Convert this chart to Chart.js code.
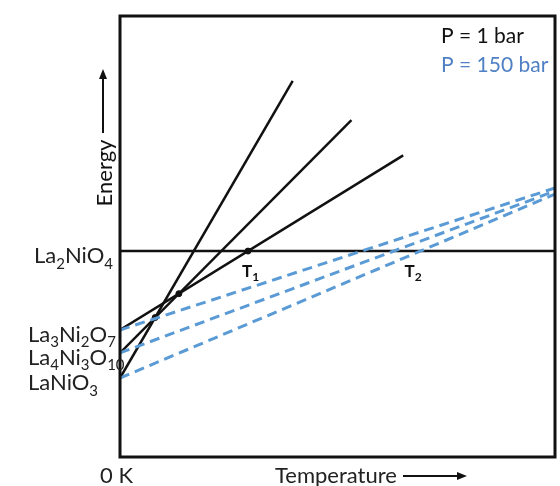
<!DOCTYPE html>
<html>
<head>
<meta charset="utf-8">
<script src="https://cdn.jsdelivr.net/npm/chart.js@4/dist/chart.umd.min.js"></script>
<style>
  html, body { margin: 0; padding: 0; background: #fff; }
  .wrap { width: 560px; height: 486px; position: relative; }
</style>
</head>
<body>
<div class="wrap"><canvas id="myChart"></canvas></div>
<script>
// phases, their energy at 0 K (arbitrary units, 0-100)
const phases = ["La2NiO4", "La3Ni2O7", "La4Ni3O10", "LaNiO3"];
const energy0K = [46.7, 28.8, 23.6, 17.9];
// P = 1 bar lines: end point (temperature, energy)
const bar1EndT = [100, 65.1, 53.2, 39.7];
const bar1EndE = [46.7, 68.4, 76.4, 85.3];
// P = 150 bar lines end at T = 100
const bar150EndE = [46.7, 61.0, 60.3, 59.6];
const legendLabels = ["P = 1 bar", "P = 150 bar"];

const BLACK = "#111111";
const BLUE = "#5b9bd5";
const BLUE_TEXT = "#4f81c4";
const FONT = "Lato";

const lineOf = (i, endT, endE) => [{ x: 0, y: energy0K[i] }, { x: endT, y: endE }];

const cross = (a, b) => {
  const sa = (a[1].y - a[0].y) / (a[1].x - a[0].x);
  const sb = (b[1].y - b[0].y) / (b[1].x - b[0].x);
  const x = (b[0].y - a[0].y) / (sa - sb);
  return { x: x, y: a[0].y + sa * x };
};

const lines1 = phases.map((p, i) => lineOf(i, bar1EndT[i], bar1EndE[i]));
const lines150 = phases.map((p, i) => lineOf(i, 100, bar150EndE[i]));

const dots = [cross(lines1[1], lines1[2]), cross(lines1[2], lines1[3]), cross(lines1[1], lines1[0])];
const t1 = dots[2];
const t2 = cross(lines150[3], lines150[0]);

const datasets = [];
lines150.slice(1).forEach((d) => {
  datasets.push({ data: d, showLine: true, borderColor: BLUE, borderWidth: 3, borderDash: [10, 6], pointRadius: 0 });
});
lines1.forEach((d) => {
  datasets.push({ data: d, showLine: true, borderColor: BLACK, borderWidth: 2.5, pointRadius: 0 });
});
datasets.push({ data: dots, showLine: false, pointRadius: 3, backgroundColor: BLACK, borderColor: BLACK });

// text with digits drawn as subscripts
function drawRich(ctx, text, x, y, size, color, weight, sub) {
  const runs = sub ? text.match(/\d+|\D+/g) : [text];
  const big = `${weight} ${size}px ${FONT}`;
  const small = `${weight} ${Math.round(size * 0.7)}px ${FONT}`;
  let cx = x;
  ctx.fillStyle = color;
  ctx.textBaseline = "alphabetic";
  ctx.textAlign = "left";
  runs.forEach((r) => {
    const isSub = sub && /\d/.test(r);
    ctx.font = isSub ? small : big;
    ctx.fillText(r, cx, isSub ? y + size * 0.25 : y);
    cx += ctx.measureText(r).width;
  });
}

function arrow(ctx, x1, y1, x2, y2) {
  const a = Math.atan2(y2 - y1, x2 - x1);
  ctx.strokeStyle = BLACK;
  ctx.fillStyle = BLACK;
  ctx.lineWidth = 2;
  ctx.beginPath();
  ctx.moveTo(x1, y1);
  ctx.lineTo(x2 - 6 * Math.cos(a), y2 - 6 * Math.sin(a));
  ctx.stroke();
  ctx.beginPath();
  ctx.moveTo(x2, y2);
  ctx.lineTo(x2 - 10 * Math.cos(a) + 4 * Math.sin(a), y2 - 10 * Math.sin(a) - 4 * Math.cos(a));
  ctx.lineTo(x2 - 10 * Math.cos(a) - 4 * Math.sin(a), y2 - 10 * Math.sin(a) + 4 * Math.cos(a));
  ctx.closePath();
  ctx.fill();
}

const decor = {
  id: "decor",
  afterDraw(chart) {
    const ctx = chart.ctx;
    const area = chart.chartArea;
    const xs = chart.scales.x;
    const ys = chart.scales.y;
    ctx.save();
    // frame
    ctx.strokeStyle = BLACK;
    ctx.lineWidth = 3;
    ctx.strokeRect(area.left, area.top, area.right - area.left, area.bottom - area.top);

    // phase labels
    phases.forEach((p, i) => {
      drawRich(ctx, p, i === 0 ? 34 : 28, ys.getPixelForValue(energy0K[i]) + 12, 22, "#222", "normal", true);
    });

    // T labels
    drawRich(ctx, "T1", xs.getPixelForValue(t1.x) - 6, ys.getPixelForValue(t1.y) + 26, 17, BLACK, "bold", true);
    drawRich(ctx, "T2", xs.getPixelForValue(t2.x) - 16, ys.getPixelForValue(t2.y) + 26, 17, BLACK, "bold", true);

    // pressure legend
    drawRich(ctx, legendLabels[0], 441, 43, 21, BLACK, "normal", false);
    drawRich(ctx, legendLabels[1], 441, 72, 21, BLUE_TEXT, "normal", false);

    // axis titles
    ctx.font = `22px ${FONT}`;
    ctx.fillStyle = "#222";
    ctx.textBaseline = "alphabetic";
    ctx.textAlign = "left";
    ctx.fillText("0 K", 100, 483);
    ctx.fillText("Temperature", 275, 483);
    arrow(ctx, 403, 476, 467, 476);

    ctx.save();
    ctx.translate(112, 173);
    ctx.rotate(-Math.PI / 2);
    ctx.textAlign = "center";
    ctx.fillText("Energy", 0, 0);
    ctx.restore();
    arrow(ctx, 103, 133, 103, 69);
    ctx.restore();
  },
};

new Chart(document.getElementById("myChart"), {
  type: "scatter",
  data: { datasets: datasets },
  options: {
    responsive: true,
    maintainAspectRatio: false,
    animation: false,
    layout: { padding: { left: 120, top: 16, right: 2, bottom: 29 } },
    scales: {
      x: { type: "linear", min: 0, max: 100, display: false },
      y: { type: "linear", min: 0, max: 100, display: false },
    },
    plugins: {
      legend: { display: false },
      tooltip: { enabled: false },
    },
  },
  plugins: [decor],
});
</script>
</body>
</html>
